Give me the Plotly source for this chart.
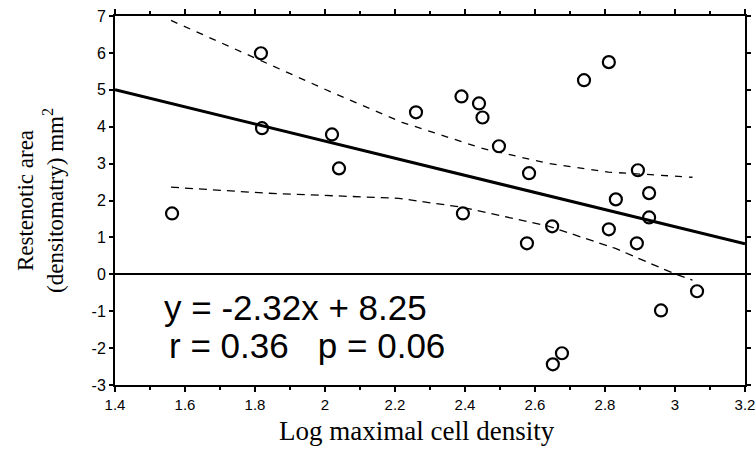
import numpy as np
import plotly.graph_objects as go

# Data points
log_density = [1.563, 1.817, 1.82, 2.02, 2.04, 2.26, 2.39, 2.44, 2.45, 2.497, 2.583,
               2.394, 2.577, 2.649, 2.74, 2.811, 2.811, 2.831, 2.894, 2.926, 2.926,
               2.891, 3.063, 2.96, 2.651, 2.677]
restenotic_area = [1.65, 5.99, 3.96, 3.79, 2.87, 4.39, 4.82, 4.63, 4.25, 3.47, 2.74,
                   1.65, 0.84, 1.30, 5.26, 5.75, 1.22, 2.03, 2.82, 2.20, 1.54,
                   0.84, -0.46, -0.98, -2.44, -2.14]

# Regression fit
slope = -2.32
intercept = 8.25
fit_x = [1.4, 3.2]

# Confidence bands
upper_x = [1.56, 1.77, 2.02, 2.22, 2.45, 2.64, 2.81, 3.05]
upper_y = [6.88, 5.99, 4.93, 4.12, 3.41, 3.0, 2.77, 2.63]
lower_x = [1.56, 1.83, 2.21, 2.39, 2.64, 2.83, 2.99, 3.05]
lower_y = [2.36, 2.2, 2.06, 1.82, 1.30, 0.70, 0.05, -0.16]

x_ticks = [1.4, 1.6, 1.8, 2.0, 2.2, 2.4, 2.6, 2.8, 3.0, 3.2]
x_ticklabels = ["1.4", "1.6", "1.8", "2", "2.2", "2.4", "2.6", "2.8", "3", "3.2"]
y_ticks = [-3, -2, -1, 0, 1, 2, 3, 4, 5, 6, 7]
y_ticklabels = ["-3", "-2", "-1", "0", "1", "2", "3", "4", "5", "6", "7"]

fig = go.Figure()

fig.add_trace(go.Scatter(x=upper_x, y=upper_y, mode="lines",
                         line=dict(color="black", width=1.3, dash="7px,7px"),
                         hoverinfo="skip", showlegend=False))
fig.add_trace(go.Scatter(x=lower_x, y=lower_y, mode="lines",
                         line=dict(color="black", width=1.3, dash="8px,6px"),
                         hoverinfo="skip", showlegend=False))

fy = [slope * v + intercept for v in fit_x]
fig.add_trace(go.Scatter(x=fit_x, y=fy, mode="lines",
                         line=dict(color="black", width=3),
                         showlegend=False))

fig.add_trace(go.Scatter(x=log_density, y=restenotic_area, mode="markers",
                         marker=dict(symbol="circle-open", size=12,
                                     color="black", line=dict(width=2.2, color="black")),
                         showlegend=False))

fig.add_annotation(x=1.534, y=-0.89, xref="x", yref="y", xanchor="left", yanchor="middle",
                   text="y = -2.32x + 8.25", showarrow=False,
                   font=dict(family="Liberation Sans", size=35, color="black"))
fig.add_annotation(x=1.548, y=-1.92, xref="x", yref="y", xanchor="left", yanchor="middle",
                   text="r = 0.36\u00a0\u00a0\u00a0p = 0.06", showarrow=False,
                   font=dict(family="Liberation Sans", size=35, color="black"))

# x-axis title placed as a paper annotation for exact position
fig.add_annotation(x=0.48, y=-0.125, xref="paper", yref="paper", xanchor="center",
                   yanchor="middle", text="Log maximal cell density", showarrow=False,
                   font=dict(family="Liberation Serif", size=27, color="black"))

fig.update_layout(
    width=756, height=449,
    margin=dict(l=115, r=11, t=16, b=64),
    paper_bgcolor="white", plot_bgcolor="white",
    font=dict(family="Liberation Sans", color="black"),
)

fig.update_xaxes(
    range=[1.4, 3.2], tickvals=x_ticks, ticktext=x_ticklabels,
    showgrid=False, zeroline=False, automargin=False, ticklabeloverflow="allow",
    showline=True, linecolor="black", linewidth=2, mirror="ticks",
    ticks="outside", ticklen=5, tickwidth=1.5, tickcolor="black",
    minor=dict(dtick=0.1, ticks="outside", ticklen=3, tickwidth=1.5, tickcolor="black"),
    tickfont=dict(family="Liberation Sans", size=15, color="black"),
)
fig.update_yaxes(
    range=[-3, 7], tickvals=y_ticks, ticktext=y_ticklabels,
    showgrid=False, zeroline=True, zerolinecolor="black", zerolinewidth=2,
    showline=True, linecolor="black", linewidth=2, mirror="ticks", automargin=False,
    ticks="outside", ticklen=4, tickwidth=1.5, tickcolor="black",
    tickfont=dict(family="Liberation Sans", size=16, color="black"),
    title=dict(text="Restenotic area<br>(densitomatry) mm<sup>2</sup>", standoff=22,
               font=dict(family="Liberation Serif", size=23, color="black")),
)

fig.write_html("out.html")
